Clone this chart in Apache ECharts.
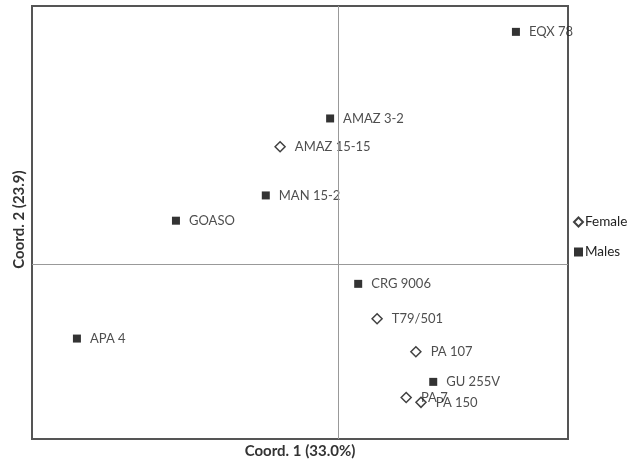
<!DOCTYPE html>
<html>
<head>
<meta charset="utf-8">
<script src="https://cdn.jsdelivr.net/npm/echarts@6/dist/echarts.min.js"></script>
<style>
  html, body { margin: 0; padding: 0; background: #fff; }
</style>
</head>
<body>
<div id="pcoa" style="width: 643px;height: 464px;"></div>
<script>
// female accessions
const femaleNames = ['AMAZ 15-15', 'T79/501', 'PA 107', 'PA 7', 'PA 150'];
const femaleX = [-0.114, 0.076, 0.152, 0.133, 0.162];
const femaleY = [0.196, -0.090, -0.145, -0.221, -0.229];

// male accessions
const maleNames = ['EQX 78', 'AMAZ 3-2', 'MAN 15-2', 'GOASO', 'CRG 9006', 'APA 4', 'GU 255V'];
const maleX = [0.348, -0.016, -0.142, -0.318, 0.039, -0.512, 0.186];
const maleY = [0.387, 0.243, 0.115, 0.073, -0.032, -0.123, -0.195];

function toPoints(names, xs, ys) {
  return names.map((n, i) => ({name: n, value: [xs[i], ys[i]]}))
}

const labelStyle = {
  show: true,
  position: 'right',
  distance: 9,
  formatter: '{b}',
  color: '#222',
  fontSize: 13,
  fontFamily: 'Lato',
}

let option = {
  animation: false,
  grid: {
    left: 32,
    right: 75,
    top: 6,
    bottom: 25,
    outerBoundsMode: 'none',
    show: true,
    borderColor: '#555',
    borderWidth: 2,
  },
  legend: {
    orient: 'vertical',
    left: 568,
    top: 210,
    itemWidth: 9,
    itemHeight: 9,
    itemGap: 16,
    textStyle: {fontFamily: 'Lato', fontSize: 13.5, color: '#222', padding: [0, 0, 0, -3]},
    data: ['Female', 'Males'],
  },
  xAxis: {
    type: 'value',
    min: -0.6,
    max: 0.45,
    name: 'Coord. 1 (33.0%)',
    nameLocation: 'middle',
    nameGap: 5,
    nameTextStyle: {fontFamily: 'Lato', fontWeight: 'bold', fontSize: 15, color: '#333'},
    axisLine: {show: false},
    axisTick: {show: false},
    axisLabel: {show: false},
    splitLine: {show: false},
  },
  yAxis: {
    type: 'value',
    min: -0.29,
    max: 0.43,
    name: 'Coord. 2 (23.9)',
    nameLocation: 'middle',
    nameGap: 5,
    nameTextStyle: {fontFamily: 'Lato', fontWeight: 'bold', fontSize: 15, color: '#333', padding: [0, 0, 0, 6]},
    axisLine: {show: false},
    axisTick: {show: false},
    axisLabel: {show: false},
    splitLine: {show: false},
  },
  series: [
    {
      name: 'Female',
      type: 'scatter',
      symbol: 'diamond',
      symbolSize: 10,
      itemStyle: {color: '#fff', borderColor: '#111', borderWidth: 1.5},
      label: labelStyle,
      data: toPoints(femaleNames, femaleX, femaleY),
      markLine: {
        silent: true,
        symbol: 'none',
        label: {show: false},
        lineStyle: {color: '#999', width: 1, type: 'solid'},
        data: [{xAxis: 0}, {yAxis: 0}],
      },
      z: 3,
    },
    {
      name: 'Males',
      type: 'scatter',
      symbol: 'rect',
      symbolSize: 8,
      itemStyle: {color: '#000'},
      label: labelStyle,
      data: toPoints(maleNames, maleX, maleY),
      z: 3,
    },
  ]
}

let chart = echarts.init(document.getElementById('pcoa'), null, {renderer: 'canvas'})
chart.setOption(option)
</script>
</body>
</html>
